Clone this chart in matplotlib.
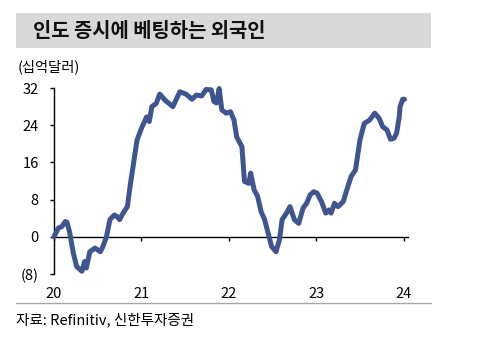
import numpy as np
import matplotlib
matplotlib.use('Agg')
import matplotlib.pyplot as plt
from matplotlib.patches import Rectangle
from matplotlib.lines import Line2D

plt.rcParams['font.family'] = ['Noto Sans CJK KR', 'DejaVu Sans']

# data (decimal year, USD bn)
t = [2020.00, 2020.05, 2020.09, 2020.13, 2020.15, 2020.18, 2020.22, 2020.26,
     2020.32, 2020.35, 2020.37, 2020.41, 2020.47, 2020.53, 2020.56, 2020.60,
     2020.64, 2020.69, 2020.72, 2020.75, 2020.79, 2020.84, 2020.87, 2020.91,
     2020.95, 2021.00, 2021.06, 2021.09, 2021.12, 2021.17, 2021.21, 2021.27,
     2021.36, 2021.44, 2021.51, 2021.58, 2021.63, 2021.69, 2021.74, 2021.80,
     2021.83, 2021.86, 2021.89, 2021.92, 2021.97, 2022.02, 2022.06, 2022.09,
     2022.15, 2022.18, 2022.23, 2022.25, 2022.29, 2022.33, 2022.37, 2022.41,
     2022.45, 2022.49, 2022.54, 2022.58, 2022.61, 2022.66, 2022.70, 2022.75,
     2022.80, 2022.85, 2022.89, 2022.93, 2022.97, 2023.01, 2023.06, 2023.11,
     2023.15, 2023.17, 2023.21, 2023.25, 2023.31, 2023.35, 2023.40, 2023.45,
     2023.50, 2023.55, 2023.61, 2023.67, 2023.72, 2023.76, 2023.81, 2023.85,
     2023.89, 2023.92, 2023.95, 2023.96, 2023.99, 2024.01]
val = [0.0, 1.9, 2.2, 3.3, 3.1, 0.9, -3.4, -6.4,
       -7.4, -5.3, -6.7, -3.2, -2.4, -3.2, -2.1, 0.0,
       3.7, 4.7, 4.4, 3.7, 5.1, 6.5, 10.8, 15.8,
       20.8, 23.3, 25.8, 24.8, 28.0, 28.7, 30.7, 29.4,
       28.0, 31.2, 30.7, 29.6, 30.5, 30.3, 31.7, 31.6,
       29.1, 28.8, 31.9, 27.3, 26.6, 26.9, 25.1, 21.5,
       19.4, 11.9, 11.5, 13.7, 10.1, 8.7, 5.4, 3.7,
       0.8, -2.1, -3.2, -0.6, 3.7, 5.1, 6.5, 3.7,
       2.9, 6.2, 7.2, 9.0, 9.7, 9.4, 7.6, 5.1,
       5.8, 5.1, 7.2, 6.5, 7.6, 10.1, 13.0, 14.4,
       20.8, 24.4, 25.1, 26.6, 25.5, 23.7, 23.0, 21.0,
       21.2, 22.3, 25.8, 28.0, 29.6, 29.6]

years = [2020, 2021, 2022, 2023, 2024]
year_labels = ['20', '21', '22', '23', '24']
yticks = [-8, 0, 8, 16, 24, 32]
ylabels = ['(8)', '0', '8', '16', '24', '32']

fig = plt.figure(figsize=(4.79, 3.5), dpi=100)

# title bar
fig.patches.append(Rectangle((0.0334, 0.863), 0.8666, 0.1, transform=fig.transFigure,
                             facecolor='#D9D9D9', edgecolor='none', zorder=0))
fig.text(0.069, 0.912, '인도 증시에 베팅하는 외국인', fontsize=14.3, fontweight='bold',
         va='center', ha='left', color='#111111')
fig.text(0.036, 0.808, '(십억달러)', fontsize=10.3, va='center', ha='left')

ax = fig.add_axes([0.1127, 0.217, 0.739, 0.5314])
ax.plot(t, val, color='#3F5592', lw=3.6, solid_capstyle='round', solid_joinstyle='round',
        clip_on=False, zorder=3)
ax.set_xlim(2020, 2024.05)
ax.set_ylim(-8, 32)
ax.set_yticks(yticks)
ax.set_yticklabels(ylabels)
ax.set_xticks(years)
ax.set_xticklabels(year_labels)
ax.tick_params(axis='x', length=0, pad=9, labelsize=10.5)
ax.tick_params(axis='y', length=3, width=1, pad=8, labelsize=10.5)
for s in ['top', 'right', 'bottom']:
    ax.spines[s].set_visible(False)
ax.spines['left'].set_linewidth(1)

# zero line with year ticks
sec = ax.secondary_xaxis(0.2)
sec.set_xticks(years)
sec.tick_params(axis='x', length=3, width=1, labelbottom=False)
sec.spines['bottom'].set_linewidth(1)

# bottom rule and source
fig.add_artist(Line2D([0.0334, 0.9], [0.134, 0.134], transform=fig.transFigure,
                      color='#A6A6A6', lw=1))
fig.text(0.0334, 0.086, '자료: Refinitiv, 신한투자증권', fontsize=10.5, va='center', ha='left')

fig.savefig('out.png', dpi=100)
